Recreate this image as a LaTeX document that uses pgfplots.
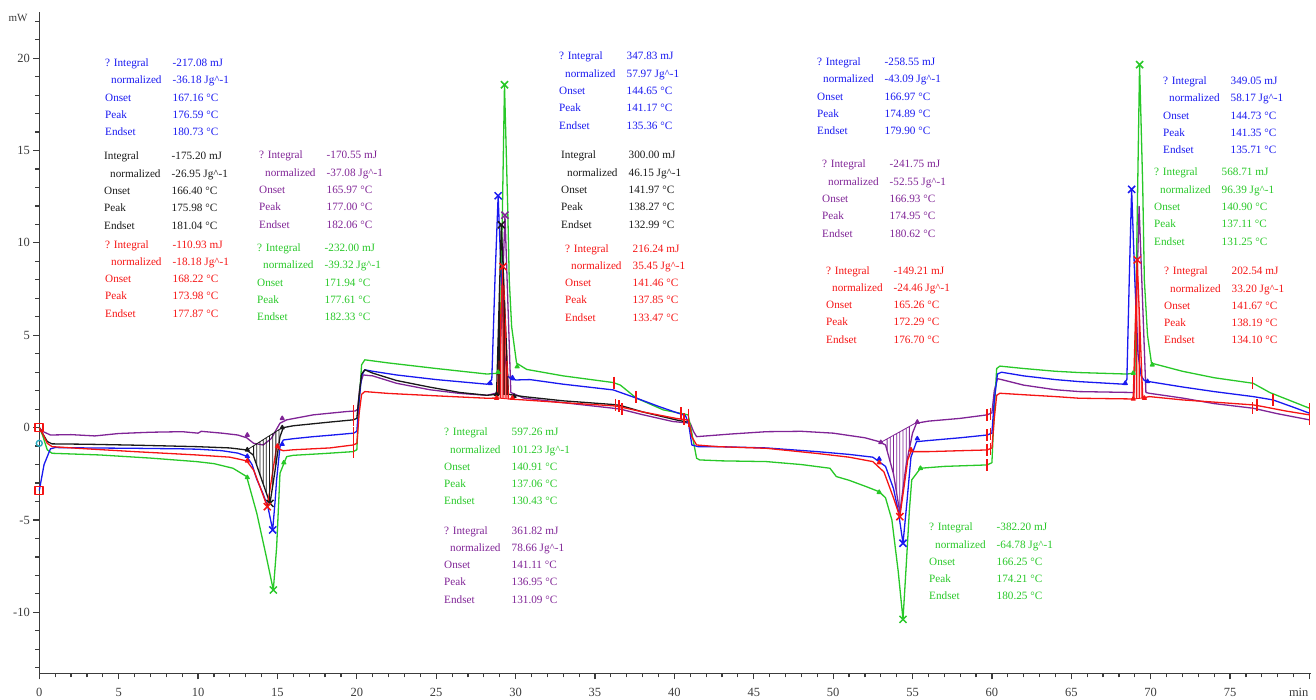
\documentclass[border=0pt]{standalone}
\usepackage{pgfplots}
\pgfplotsset{compat=1.18}
\usepackage{fontspec}
\setmainfont{Liberation Serif}
\definecolor{cblue}{RGB}{25,25,240}
\definecolor{cred}{RGB}{245,20,20}
\definecolor{cgreen}{RGB}{40,200,40}
\definecolor{cpurple}{RGB}{128,36,150}
\definecolor{cblack}{RGB}{25,25,25}
\definecolor{axgray}{RGB}{60,60,60}
\definecolor{ccyan}{RGB}{40,170,190}
\newcommand{\blk}[9]{\node[anchor=north west, inner sep=0pt, text=#1, font=\fontsize{11.2}{17.3}\selectfont] at (#2pt,{700pt-#3pt+8.3pt}) {\begin{tabular}{@{}p{67.5pt}@{}l@{}}#4 & #5 mJ\\\hspace*{6pt}normalized & #6 Jg\textasciicircum-1\\Onset & #7 °C\\Peak & #8 °C\\Endset & #9 °C\end{tabular}};}
\begin{document}
\begin{tikzpicture}
\begin{axis}[
  at={(39.3pt,26.7pt)}, anchor=south west, scale only axis,
  width=1271.7pt, height=661.3pt,
  xmin=0, xmax=80.1, ymin=-13.3, ymax=22.5,
  axis x line=bottom, axis y line=left,
  axis line style={-, draw=axgray, line width=1.5pt},
  xtick={0,5,...,80},
  xticklabels={0,5,10,15,20,25,30,35,40,45,50,55,60,65,70,75,\makebox[0pt][r]{min\hspace*{1pt}}},
  ytick={-10,-5,0,5,10,15,20},
  minor xtick={0,1,...,80}, minor ytick={-13,-12,...,22},
  tick align=outside, major tick length=6pt, minor tick length=4pt,
  every tick/.style={draw=axgray, line width=1.2pt},
  tick label style={font=\fontsize{12.5}{14}\selectfont, text=axgray},
  xticklabel style={yshift=-5pt},
  /pgf/number format/assume math mode=true,
  clip=false,
  unbounded coords=jump, filter discard warning=false,
  every axis plot/.append style={line width=1.3pt, line join=round},
]
% purple
\addplot[cpurple, mark=none] coordinates {(0,0) (0.2,-0.2) (0.7,-0.4) (2,-0.38) (3.5,-0.45) (5,-0.32) (7,-0.25) (9,-0.22) (10,-0.3) (10.2,-0.2) (11.5,-0.3) (12.5,-0.4) (13.06,-0.55) (13.5,-0.85) (14.1,-0.94) (14.6,-0.6) (15.16,0.24) (15.58,0.42) (17.25,0.69) (19.36,0.87) (19.9,0.9) (20.05,1.0) (20.2,2.3) (20.4,2.85) (21,2.8) (22.5,2.4) (24.6,2.05) (26.5,1.85) (28.2,1.75) (28.95,1.9) (29.33,11.5) (29.7,1.9) (30.5,1.6) (33,1.35) (36.15,1.05) (36.6,1.0) (38,0.7) (39.9,0.33) (41.0,0.24) (41.2,-0.2) (41.4,-0.49) (43.5,-0.35) (45.8,-0.22) (48,-0.2) (50,-0.3) (52,-0.55) (52.9,-0.76) (53.3,-0.94) (53.8,-2.5) (54.2,-4.6) (54.6,-2.0) (55.0,-0.3) (55.25,0.24) (56,0.35) (58,0.5) (59.7,0.69) (60.0,0.8) (60.15,2.0) (60.35,2.65) (60.6,2.6) (62,2.3) (64,2.05) (65.5,1.95) (68.95,1.9) (69.27,11.97) (69.7,1.9) (69.9,1.86) (72,1.6) (74,1.3) (76.45,1.05) (78,0.75) (80,0.42)};
% green
\addplot[cgreen, mark=none] coordinates {(0,0) (0.2,-0.4) (0.5,-1.2) (0.8,-1.39) (3.8,-1.48) (7,-1.65) (9.9,-1.84) (11,-1.95) (12.2,-2.2) (13.06,-2.65) (13.7,-4.64) (14.3,-6.99) (14.74,-8.79) (14.95,-6.45) (15.16,-2.47) (15.58,-1.57) (16,-1.5) (18,-1.4) (19.77,-1.3) (20.0,-1.2) (20.15,1.5) (20.3,3.4) (20.5,3.67) (22,3.5) (25,3.2) (28.2,2.9) (29.0,2.95) (29.3,18.56) (29.5,12) (29.6,8) (29.75,5.47) (30.06,3.49) (30.7,3.15) (33,2.8) (36.15,2.44) (36.6,2.3) (37.6,1.6) (39.3,0.96) (40.35,0.78) (40.87,0.69) (41.1,-0.3) (41.4,-1.66) (41.6,-1.75) (43,-1.8) (45.8,-1.84) (48,-2.0) (49.8,-2.2) (50.2,-2.65) (51,-2.85) (52.1,-3.2) (52.9,-3.47) (53.3,-3.8) (53.7,-5.0) (54.1,-7.8) (54.4,-10.38) (54.6,-7.5) (54.8,-4.5) (54.95,-2.83) (55.5,-2.2) (57,-2.1) (59.7,-2.02) (60.0,-1.9) (60.15,1.0) (60.3,3.2) (60.5,3.33) (62,3.2) (64,3.05) (65.5,2.98) (68.5,2.9) (69.0,2.95) (69.3,19.65) (69.5,13) (69.6,8) (69.8,5.0) (70.05,3.49) (72,3.05) (74,2.7) (76.45,2.4) (77.5,1.9) (80,1.05)};
% blue
\addplot[cblue, mark=none] coordinates {(0,-3.4) (0.3,-2.0) (0.7,-1.15) (1.0,-1.08) (3,-1.1) (6,-1.12) (9,-1.15) (10,-1.17) (11.5,-1.25) (12.5,-1.38) (13.06,-1.55) (13.4,-2.0) (13.7,-2.8) (14.1,-3.6) (14.4,-4.3) (14.7,-5.54) (14.85,-4.0) (14.95,-2.8) (15.16,-1.03) (15.37,-0.67) (16,-0.6) (17.25,-0.49) (18.5,-0.4) (19.8,-0.3) (20.0,-0.2) (20.15,1.5) (20.3,2.8) (20.5,3.13) (21,3.05) (22.5,2.85) (25,2.6) (28.2,2.35) (28.5,2.6) (28.7,8) (28.9,12.55) (29.1,8) (29.3,4) (29.5,2.8) (29.75,2.6) (30.06,2.58) (30.9,2.6) (33,2.35) (36.15,2.04) (37.6,1.6) (39,1.15) (40.35,0.75) (40.7,0.65) (40.9,0.2) (41.1,-0.94) (41.5,-1.03) (42.7,-1.03) (45.8,-1.1) (49,-1.3) (51,-1.45) (52.5,-1.6) (53.3,-2.1) (53.8,-3.3) (54.1,-4.5) (54.4,-6.26) (54.65,-4.0) (54.9,-1.6) (55.25,-0.76) (56,-0.7) (58,-0.55) (59.7,-0.4) (60.0,-0.3) (60.15,1.5) (60.35,2.9) (60.6,3.0) (62,2.8) (64,2.6) (65.5,2.49) (68.3,2.35) (68.5,2.6) (68.65,8) (68.8,12.9) (69.0,8) (69.2,4) (69.4,2.8) (69.6,2.55) (69.9,2.49) (72,2.2) (74,1.95) (76.45,1.68) (77.7,1.5) (79,1.1) (80,0.78)};
% black
\addplot[cblack, mark=none] coordinates {(0,0) (0.2,-0.3) (0.5,-0.75) (0.8,-0.88) (3,-0.9) (6,-0.95) (9.9,-1.03) (12,-1.1) (13.06,-1.21) (13.47,-1.48) (14.0,-2.8) (14.53,-4.1) (14.8,-2.6) (15.16,-0.49) (15.37,0.0) (16,0.1) (18.3,0.3) (19.77,0.42) (20.0,0.5) (20.15,1.8) (20.3,2.9) (20.5,3.13) (21,2.95) (22.5,2.55) (24.6,2.19) (26.5,1.9) (28.2,1.75) (28.8,1.8) (29.1,10.98) (29.55,1.8) (30.5,1.68) (33,1.45) (36.15,1.25) (36.6,1.2) (38,0.85) (40.1,0.42) (40.8,0.3)};
% red
\addplot[cred, mark=none] coordinates {(0,0) (0.2,-0.3) (0.5,-0.85) (0.8,-1.03) (3,-1.15) (6,-1.3) (9.9,-1.48) (12,-1.6) (13.06,-1.8) (13.5,-2.3) (13.9,-3.2) (14.36,-4.28) (14.7,-2.4) (14.95,-1.03) (15.2,-1.2) (15.37,-1.25) (16,-1.2) (18.3,-1.1) (19.77,-0.94) (20.0,-0.85) (20.15,0.8) (20.3,1.8) (20.5,1.95) (22,1.85) (25,1.72) (28.2,1.59) (28.85,1.6) (29.2,8.72) (29.55,1.55) (30.5,1.5) (33,1.35) (36.15,1.18) (36.6,1.12) (38,0.85) (40.1,0.5) (40.9,0.4) (41.1,-0.5) (41.4,-0.94) (42.7,-1.03) (45.8,-1.12) (49,-1.4) (51,-1.6) (52.5,-1.84) (53.2,-2.4) (53.8,-3.8) (54.2,-4.82) (54.5,-3.0) (54.7,-1.75) (54.9,-1.3) (56,-1.3) (58,-1.25) (59.7,-1.21) (60.0,-1.1) (60.15,0.5) (60.3,1.75) (60.5,1.86) (62,1.78) (64,1.68) (65.5,1.59) (68.9,1.55) (69.15,9.08) (69.5,1.6) (69.9,1.68) (72,1.5) (74,1.38) (76.45,1.23) (77,1.15) (78.5,0.9) (80,0.69)};
% hatching
\addplot[cpurple, line width=0.8pt] coordinates {(53.4,-0.61)(53.4,-1.25)(53.4,nan)(53.6,-0.51)(53.6,-1.88)(53.6,nan)(53.8,-0.41)(53.8,-2.5)(53.8,nan)(54.0,-0.32)(54.0,-3.55)(54.0,nan)(54.2,-0.23)(54.2,-4.6)(54.2,nan)(54.4,-0.13)(54.4,-3.3)(54.4,nan)(54.6,-0.04)(54.6,-2.0)(54.6,nan)(54.8,0.06)(54.8,-1.15)(54.8,nan)(53.0,-0.8)(55.3,0.3)};
\addplot[cblack, line width=0.8pt] coordinates {(13.5,-0.98)(13.5,-1.55)(13.5,nan)(13.7,-0.87)(13.7,-2.05)(13.7,nan)(13.9,-0.76)(13.9,-2.55)(13.9,nan)(14.1,-0.65)(14.1,-3.05)(14.1,nan)(14.3,-0.55)(14.3,-3.54)(14.3,nan)(14.5,-0.44)(14.5,-4.03)(14.5,nan)(14.7,-0.33)(14.7,-3.16)(14.7,nan)(14.9,-0.22)(14.9,-2.01)(14.9,nan)(15.1,-0.11)(15.1,-0.84)(15.1,nan)(13.1,-1.2)(15.3,0.0)};
\addplot[cblack, line width=0.8pt] coordinates {(28.9,1.78)(28.9,4.86)(28.9,nan)(29.0,1.78)(29.0,7.92)(29.0,nan)(29.2,1.78)(29.2,8.94)(29.2,nan)(29.3,1.78)(29.3,6.9)(29.3,nan)(29.4,1.78)(29.4,4.86)(29.4,nan)(29.5,1.78)(29.5,2.82)};
\addplot[cred, line width=0.8pt] coordinates {(28.95,1.58)(28.95,3.63)(28.95,nan)(29.05,1.58)(29.05,5.67)(29.05,nan)(29.15,1.58)(29.15,7.7)(29.15,nan)(29.25,1.58)(29.25,7.7)(29.25,nan)(29.35,1.58)(29.35,5.65)(29.35,nan)(29.45,1.58)(29.45,3.6)(29.45,nan)(28.85,1.6)(29.55,1.55)};
\addplot[cred, line width=0.8pt] coordinates {(69.0,1.57)(69.0,4.56)(69.0,nan)(69.1,1.57)(69.1,7.57)(69.1,nan)(69.2,1.57)(69.2,8.01)(69.2,nan)(69.3,1.57)(69.3,5.87)(69.3,nan)(69.4,1.57)(69.4,3.74)(69.4,nan)(68.9,1.55)(69.5,1.6)};
% onset / endset flags
\addplot[cpurple, only marks, mark=triangle*, mark size=2.2pt] coordinates {(13.1,-0.4)(15.3,0.5)(29.9,1.7)(53.0,-0.8)(55.3,0.3)};
\addplot[cblack, only marks, mark=triangle*, mark size=2.2pt] coordinates {(13.1,-1.2)(15.3,0.0)(28.8,1.8)(29.9,1.7)};
\addplot[cblue, only marks, mark=triangle*, mark size=2.2pt] coordinates {(13.1,-1.55)(15.3,-0.9)(28.4,2.4)(29.8,2.7)(52.9,-1.7)(55.3,-0.6)(68.4,2.4)(69.8,2.5)};
\addplot[cgreen, only marks, mark=triangle*, mark size=2.2pt] coordinates {(13.1,-2.7)(15.4,-1.9)(28.9,3.0)(30.1,3.3)(52.9,-3.5)(55.5,-2.2)(68.9,2.95)(70.1,3.4)};
\addplot[cred, only marks, mark=triangle*, mark size=2.2pt] coordinates {(13.1,-1.8)(15.0,-1.0)(28.8,1.6)(29.8,1.6)(52.9,-1.9)(54.9,-1.2)(68.9,1.55)(69.6,1.6)};
% red brackets
\addplot[cred, only marks, mark=|, mark size=6pt, line width=1.6pt] coordinates {(19.8,0.9)(19.8,0.42)(19.8,-0.3)(19.8,-0.94)(19.8,-1.3)(36.2,2.44)(37.6,1.65)(36.3,1.25)(36.5,1.15)(36.7,1.0)(40.4,0.78)(40.9,0.7)(40.6,0.45)(40.9,0.35)(59.7,0.69)(59.7,-0.4)(59.7,-1.21)(59.7,-2.02)(59.9,0.75)(59.9,-0.35)(59.9,-1.15)(76.4,2.4)(77.7,1.5)(76.4,1.05)(76.7,1.2)(80,1.0)(80,0.7)(80,0.45)};
\addplot[cred, only marks, mark=square, mark size=4pt, line width=1.6pt] coordinates {(0,0)(0,-3.4)};
\addplot[ccyan, only marks, mark=o, mark size=3pt, line width=1.4pt] coordinates {(0,-0.85)};
% peak crosses
\addplot[cgreen, only marks, mark=x, mark size=5pt, line width=1.5pt] coordinates {(14.74,-8.79)(29.3,18.56)(54.4,-10.38)(69.3,19.65)};
\addplot[cblue, only marks, mark=x, mark size=5pt, line width=1.5pt] coordinates {(14.7,-5.54)(28.9,12.55)(54.4,-6.26)(68.8,12.9)};
\addplot[cpurple, only marks, mark=x, mark size=5pt, line width=1.5pt] coordinates {(29.33,11.5)};
\addplot[cblack, only marks, mark=x, mark size=5pt, line width=1.5pt] coordinates {(14.53,-4.1)(29.1,10.98)};
\addplot[cred, only marks, mark=x, mark size=5pt, line width=1.5pt] coordinates {(14.36,-4.28)(29.2,8.72)(54.2,-4.82)(69.15,9.08)};
\end{axis}
\node[text=axgray, font=\fontsize{11}{13}\selectfont] at (18pt,682pt) {mW};
\blk{cblue}{105}{62.5}{? Integral}{-217.08}{-36.18}{167.16}{176.59}{180.73}
\blk{cblack}{104}{156}{Integral}{-175.20}{-26.95}{166.40}{175.98}{181.04}
\blk{cred}{105}{244}{? Integral}{-110.93}{-18.18}{168.22}{173.98}{177.87}
\blk{cpurple}{259}{155}{? Integral}{-170.55}{-37.08}{165.97}{177.00}{182.06}
\blk{cgreen}{257}{247.5}{? Integral}{-232.00}{-39.32}{171.94}{177.61}{182.33}
\blk{cblue}{559}{56}{? Integral}{347.83}{57.97}{144.65}{141.17}{135.36}
\blk{cblack}{561}{155}{Integral}{300.00}{46.15}{141.97}{138.27}{132.99}
\blk{cred}{565}{248}{? Integral}{216.24}{35.45}{141.46}{137.85}{133.47}
\blk{cgreen}{444}{431.7}{? Integral}{597.26}{101.23}{140.91}{137.06}{130.43}
\blk{cpurple}{444}{530}{? Integral}{361.82}{78.66}{141.11}{136.95}{131.09}
\blk{cblue}{817}{61.7}{? Integral}{-258.55}{-43.09}{166.97}{174.89}{179.90}
\blk{cpurple}{822}{164}{? Integral}{-241.75}{-52.55}{166.93}{174.95}{180.62}
\blk{cred}{826}{270}{? Integral}{-149.21}{-24.46}{165.26}{172.29}{176.70}
\blk{cgreen}{929}{526.7}{? Integral}{-382.20}{-64.78}{166.25}{174.21}{180.25}
\blk{cblue}{1163}{80.7}{? Integral}{349.05}{58.17}{144.73}{141.35}{135.71}
\blk{cgreen}{1154}{172}{? Integral}{568.71}{96.39}{140.90}{137.11}{131.25}
\blk{cred}{1164}{270.7}{? Integral}{202.54}{33.20}{141.67}{138.19}{134.10}
\pgfresetboundingbox
\path[use as bounding box] (0pt,0pt) rectangle (1316pt,700pt);
\end{tikzpicture}
\end{document}
